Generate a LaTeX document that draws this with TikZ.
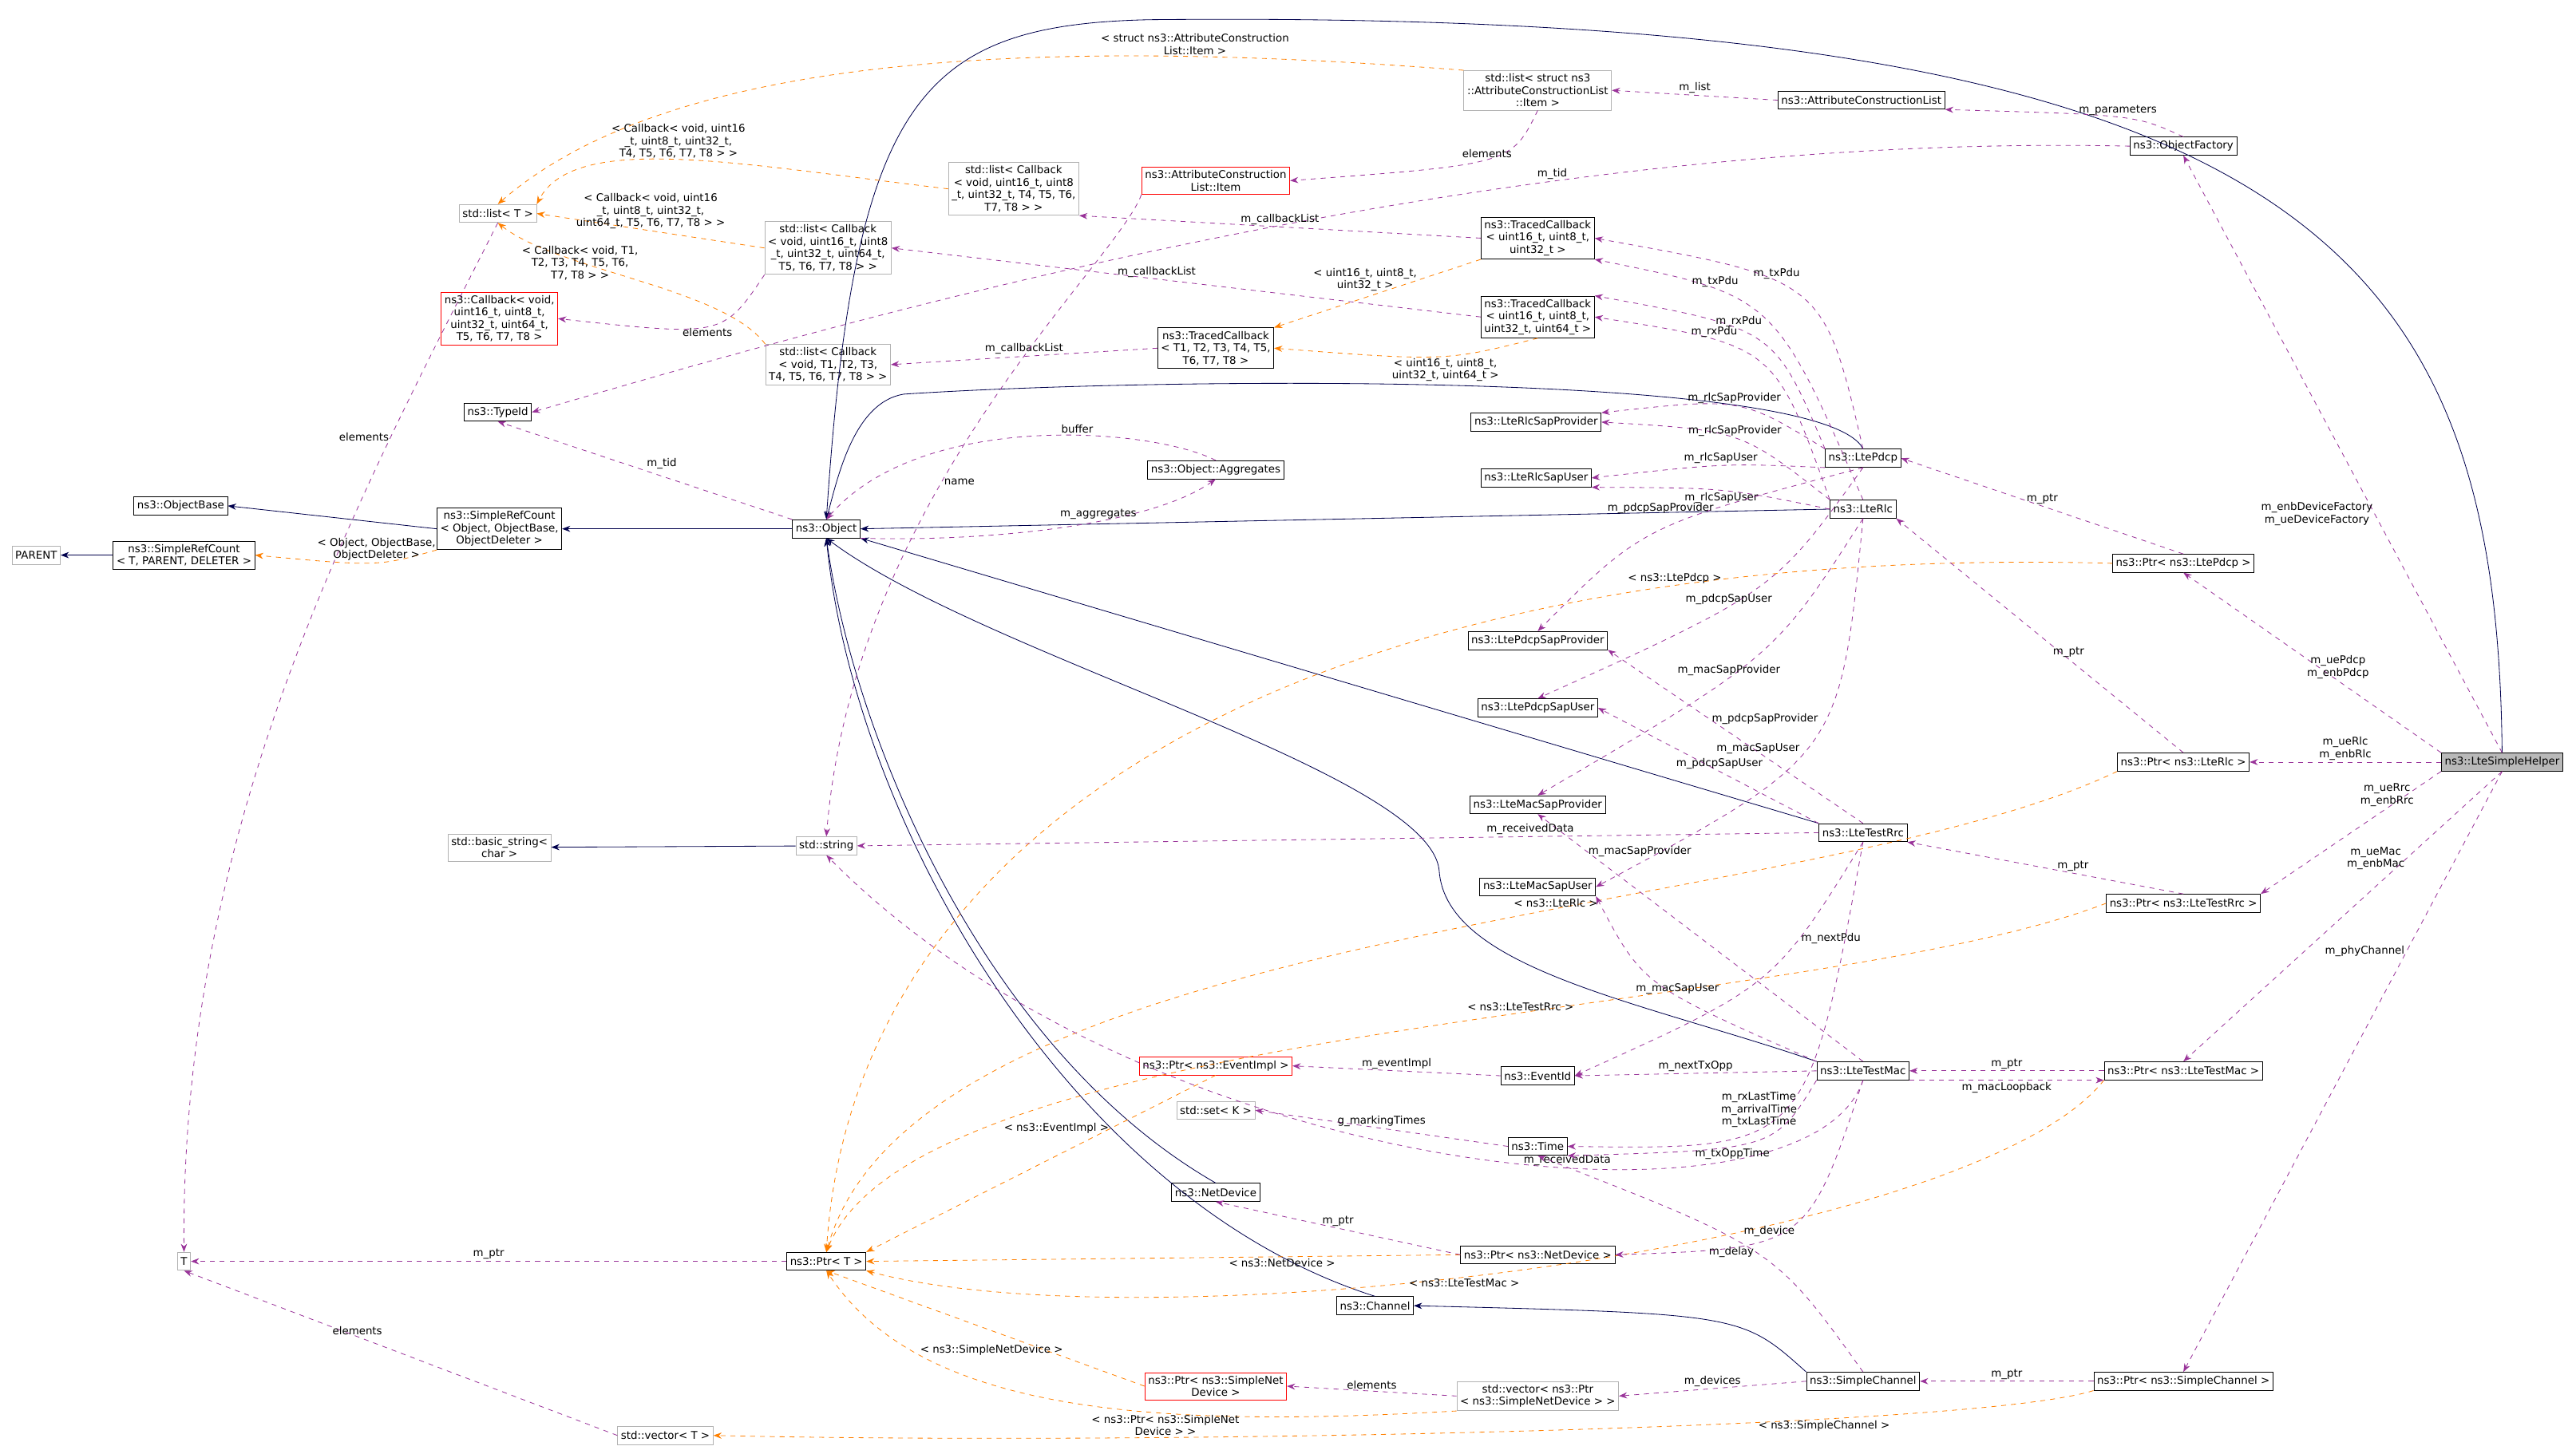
\documentclass[tikz,border=0pt]{standalone}
\usepackage{fontspec}
\setmainfont{DejaVu Sans}
\usetikzlibrary{arrows.meta}
\begin{document}
\begin{tikzpicture}[x=1pt,y=-1pt,font=\fontsize{6.5}{7.5}\selectfont,
  cls/.style={draw=black,rectangle,inner sep=2pt,minimum height=11pt,align=center,fill=white},
  ext/.style={cls,draw=gray!60},
  undoc/.style={cls,draw=red},
  inh/.style={draw=blue!30!black,-{Stealth[length=5pt]}},
  use/.style={draw=violet!80,dashed,-{Stealth[length=5pt]}},
  tpl/.style={draw=orange,dashed,-{Stealth[length=5pt]}},
  lbl/.style={inner sep=1pt,align=center,fill=none}]
\useasboundingbox (0,0) rectangle (1568,885);

% left column
\node[ext] (parent) at (22,338) {PARENT};
\node[cls] (obase) at (110,308) {ns3::ObjectBase};
\node[cls] (srct) at (112,338) {ns3::SimpleRefCount\\< T, PARENT, DELETER >};
\node[cls] (srco) at (304,322) {ns3::SimpleRefCount\\< Object, ObjectBase,\\ObjectDeleter >};
\node[ext] (listt) at (303,130) {std::list< T >};
\node[undoc] (cbk) at (304,194) {ns3::Callback< void,\\uint16\_t, uint8\_t,\\uint32\_t, uint64\_t,\\T5, T6, T7, T8 >};
\node[cls] (tid) at (303,251) {ns3::TypeId};
\node[ext] (t) at (112,768) {T};
\node[ext] (vect) at (405,874) {std::vector< T >};
\node[ext] (bstr) at (304,516) {std::basic\_string<\\char >};

% second column
\node[cls] (obj) at (503,322) {ns3::Object};
\node[cls] (ptrt) at (503,768) {ns3::Ptr< T >};
\node[ext] (str) at (503,515) {std::string};
\node[ext] (lcb64) at (504,151) {std::list< Callback\\< void, uint16\_t, uint8\\\_t, uint32\_t, uint64\_t,\\T5, T6, T7, T8 > >};
\node[ext] (lcbt) at (504,222) {std::list< Callback\\< void, T1, T2, T3,\\T4, T5, T6, T7, T8 > >};
\node[ext] (lcb32) at (617,115) {std::list< Callback\\< void, uint16\_t, uint8\\\_t, uint32\_t, T4, T5, T6,\\T7, T8 > >};

% third column
\node[undoc] (acitem) at (740,110) {ns3::AttributeConstruction\\List::Item};
\node[cls] (tcbt) at (740,212) {ns3::TracedCallback\\< T1, T2, T3, T4, T5,\\T6, T7, T8 >};
\node[cls] (aggr) at (740,286) {ns3::Object::Aggregates};
\node[undoc] (pevt) at (740,649) {ns3::Ptr< ns3::EventImpl >};
\node[ext] (setk) at (740,676) {std::set< K >};
\node[cls] (netdev) at (740,726) {ns3::NetDevice};
\node[cls] (chan) at (837,795) {ns3::Channel};
\node[undoc] (psnd) at (740,844) {ns3::Ptr< ns3::SimpleNet\\Device >};

% fourth column
\node[ext] (lattr) at (936,55) {std::list< struct ns3\\::AttributeConstructionList\\::Item >};
\node[cls] (tcb32) at (936,145) {ns3::TracedCallback\\< uint16\_t, uint8\_t,\\uint32\_t >};
\node[cls] (tcb64) at (936,193) {ns3::TracedCallback\\< uint16\_t, uint8\_t,\\uint32\_t, uint64\_t >};
\node[cls] (rlcprov) at (935,257) {ns3::LteRlcSapProvider};
\node[cls] (rlcuser) at (935,291) {ns3::LteRlcSapUser};
\node[cls] (pdcpprov) at (936,390) {ns3::LtePdcpSapProvider};
\node[cls] (pdcpuser) at (936,431) {ns3::LtePdcpSapUser};
\node[cls] (macprov) at (936,490) {ns3::LteMacSapProvider};
\node[cls] (macuser) at (936,540) {ns3::LteMacSapUser};
\node[cls] (evid) at (936,655) {ns3::EventId};
\node[cls] (time) at (936,698) {ns3::Time};
\node[cls] (pnetdev) at (936,764) {ns3::Ptr< ns3::NetDevice >};
\node[ext] (vpsnd) at (936,850) {std::vector< ns3::Ptr\\< ns3::SimpleNetDevice > >};

% fifth column
\node[cls] (acl) at (1133,61) {ns3::AttributeConstructionList};
\node[cls] (pdcp) at (1134,279) {ns3::LtePdcp};
\node[cls] (rlc) at (1134,310) {ns3::LteRlc};
\node[cls] (rrc) at (1134,507) {ns3::LteTestRrc};
\node[cls] (mac) at (1134,652) {ns3::LteTestMac};
\node[cls] (schan) at (1134,841) {ns3::SimpleChannel};

% sixth column
\node[cls] (ofact) at (1329,89) {ns3::ObjectFactory};
\node[cls] (ppdcp) at (1329,343) {ns3::Ptr< ns3::LtePdcp >};
\node[cls] (prlc) at (1329,464) {ns3::Ptr< ns3::LteRlc >};
\node[cls] (prrc) at (1329,550) {ns3::Ptr< ns3::LteTestRrc >};
\node[cls] (pmac) at (1329,652) {ns3::Ptr< ns3::LteTestMac >};
\node[cls] (pschan) at (1329,841) {ns3::Ptr< ns3::SimpleChannel >};
\node[cls,fill=gray!55] (helper) at (1523,464) {ns3::LteSimpleHelper};

% inheritance
\draw[inh] (srct) -- (parent);
\draw[inh] (srco.west) -- (obase.east);
\draw[inh] (obj) -- (srco);
\draw[inh] (str) -- (bstr);
\draw[inh] (schan.north west) .. controls (1060,800) .. (chan.east);
\draw[inh] (rlc.west) -- (obj.east);
\draw[inh] (pdcp.north) .. controls (1110,225) and (700,230) .. (550,240) .. controls (520,245) and (510,290) .. (obj.north);
\draw[inh] (rrc.north west) -- (obj.south east);
\draw[inh] (mac.north west) .. controls (1000,610) and (880,590) .. (876,530) .. controls (870,470) and (600,400) .. (obj.south);
\draw[inh] (netdev.north) .. controls (600,640) and (520,450) .. (obj.south);
\draw[inh] (chan.north) .. controls (650,730) and (520,500) .. (obj.south);
\draw[inh] (helper.north) .. controls (1520,150) and (1400,5) .. (700,12) .. controls (560,15) and (520,60) .. (obj.north);

% template instances
\draw[tpl] (srco.south west) .. controls (230,345) .. (srct.east) node[lbl,pos=0.45,above] {< Object, ObjectBase,\\ObjectDeleter >};
\draw[tpl] (lattr.north west) .. controls (600,20) and (400,40) .. (listt.north) node[lbl,pos=0.2,above] {< struct ns3::AttributeConstruction\\List::Item >};
\draw[tpl] (lcb32.west) .. controls (450,100) and (350,80) .. (listt.north east) node[lbl,pos=0.5,above] {< Callback< void, uint16\\\_t, uint8\_t, uint32\_t,\\T4, T5, T6, T7, T8 > >};
\draw[tpl] (lcb64.west) -- (listt.east) node[lbl,midway,above] {< Callback< void, uint16\\\_t, uint8\_t, uint32\_t,\\uint64\_t, T5, T6, T7, T8 > >};
\draw[tpl] (lcbt.north west) .. controls (440,175) and (340,165) .. (listt.south) node[lbl,pos=0.5,above left=-1pt] {< Callback< void, T1,\\T2, T3, T4, T5, T6,\\T7, T8 > >};
\draw[tpl] (tcb32.south west) -- (tcbt.north east) node[lbl,pos=0.3,left] {< uint16\_t, uint8\_t,\\uint32\_t >};
\draw[tpl] (tcb64.south) .. controls (880,220) .. (tcbt.east) node[lbl,pos=0.45,below] {< uint16\_t, uint8\_t,\\uint32\_t, uint64\_t >};
\draw[tpl] (ppdcp.west) .. controls (800,330) and (520,500) .. (ptrt.north) node[lbl,pos=0.2,above] {< ns3::LtePdcp >};
\draw[tpl] (prlc.south west) .. controls (1100,560) and (560,560) .. (ptrt.north) node[lbl,pos=0.4,above] {< ns3::LteRlc >};
\draw[tpl] (prrc.west) .. controls (1100,620) and (560,620) .. (ptrt.north) node[lbl,pos=0.42,above] {< ns3::LteTestRrc >};
\draw[tpl] (pevt.south) -- (ptrt.north east) node[lbl,pos=0.3,left] {< ns3::EventImpl >};
\draw[tpl] (pnetdev.west) -- (ptrt.east) node[lbl,pos=0.3,below] {< ns3::NetDevice >};
\draw[tpl] (pmac.south west) .. controls (1200,760) and (700,820) .. (ptrt.south east) node[lbl,pos=0.55,below] {< ns3::LteTestMac >};
\draw[tpl] (psnd.west) -- (ptrt.south) node[lbl,pos=0.25,above left] {< ns3::SimpleNetDevice >};
\draw[tpl] (vpsnd.south west) .. controls (700,870) and (560,860) .. (ptrt.south) node[lbl,pos=0.35,below] {< ns3::Ptr< ns3::SimpleNet\\Device > >};
\draw[tpl] (pschan.south west) .. controls (1200,870) and (700,880) .. (vect.east) node[lbl,pos=0.3,below] {< ns3::SimpleChannel >};

% usage
\draw[use] (acl.west) -- (lattr.east) node[lbl,midway,above] {m\_list};
\draw[use] (ofact.north) .. controls (1300,70) .. (acl.south east) node[lbl,midway,above] {m\_parameters};
\draw[use] (ofact.west) .. controls (900,80) and (500,200) .. (tid.east) node[lbl,pos=0.3,above] {m\_tid};
\draw[use] (listt.south) .. controls (220,300) and (110,500) .. (t.north) node[lbl,pos=0.25,left] {elements};
\draw[use] (lcb64.south west) .. controls (440,205) .. (cbk.east) node[lbl,pos=0.5,below] {elements};
\draw[use] (lattr.south) .. controls (920,100) .. (acitem.east) node[lbl,pos=0.5,above] {elements};
\draw[use] (tcb32.west) -- (lcb32.south east) node[lbl,pos=0.5,above] {m\_callbackList};
\draw[use] (tcb64.west) -- (lcb64.east) node[lbl,pos=0.55,above] {m\_callbackList};
\draw[use] (tcbt.west) -- (lcbt.east) node[lbl,midway,above] {m\_callbackList};
\draw[use] (obj.north west) -- (tid.south) node[lbl,midway,above right] {m\_tid};
\draw[use] (aggr.north) .. controls (700,260) and (560,250) .. (obj.north) node[lbl,pos=0.4,above] {buffer};
\draw[use] (obj.south east) .. controls (600,330) and (700,320) .. (aggr.south) node[lbl,pos=0.6,above] {m\_aggregates};
\draw[use] (acitem.south west) .. controls (680,160) and (520,300) .. (str.north) node[lbl,pos=0.6,right] {name};
\draw[use] (pdcp.north) .. controls (1110,170) .. (tcb32.east) node[lbl,pos=0.6,above] {m\_txPdu};
\draw[use] (pdcp.north west) .. controls (1080,200) .. (tcb64.north east) node[lbl,pos=0.6,above] {m\_rxPdu};
\draw[use] (rlc.north) .. controls (1080,180) .. (tcb32.south east) node[lbl,pos=0.7,above] {m\_txPdu};
\draw[use] (rlc.north west) .. controls (1080,210) .. (tcb64.east) node[lbl,pos=0.7,above] {m\_rxPdu};
\draw[use] (pdcp.north west) .. controls (1060,242) .. (rlcprov.north east) node[lbl,pos=0.5,above] {m\_rlcSapProvider};
\draw[use] (rlc.north west) .. controls (1060,262) .. (rlcprov.east) node[lbl,pos=0.5,above] {m\_rlcSapProvider};
\draw[use] (pdcp.south west) .. controls (1050,282) .. (rlcuser.east) node[lbl,pos=0.5,above] {m\_rlcSapUser};
\draw[use] (rlc.west) .. controls (1050,297) .. (rlcuser.south east) node[lbl,pos=0.5,below] {m\_rlcSapUser};
\draw[use] (pdcp.south) .. controls (1000,320) .. (pdcpprov.north) node[lbl,pos=0.3,left] {m\_pdcpSapProvider};
\draw[use] (pdcp.south) .. controls (1080,360) .. (pdcpuser.north) node[lbl,pos=0.6,above] {m\_pdcpSapUser};
\draw[use] (rrc.north) -- (pdcpprov.south east) node[lbl,pos=0.6,right] {m\_pdcpSapProvider};
\draw[use] (rrc.north west) -- (pdcpuser.east) node[lbl,pos=0.45,above] {m\_pdcpSapUser};
\draw[use] (rlc.south) .. controls (1080,400) .. (macprov.north) node[lbl,pos=0.6,above] {m\_macSapProvider};
\draw[use] (rlc.south) .. controls (1120,460) .. (macuser.east) node[lbl,pos=0.55,above left] {m\_macSapUser};
\draw[use] (mac.north) -- (macprov.south) node[lbl,pos=0.85,right] {m\_macSapProvider};
\draw[use] (mac.north west) .. controls (1000,600) .. (macuser.south east) node[lbl,pos=0.4,above] {m\_macSapUser};
\draw[use] (rrc.west) -- (str.east) node[lbl,pos=0.3,above] {m\_receivedData};
\draw[use] (mac.south) .. controls (1100,760) and (700,720) .. (str.south) node[lbl,pos=0.4,above] {m\_receivedData};
\draw[use] (rrc.south) .. controls (1080,600) .. (evid.east) node[lbl,pos=0.3,right] {m\_nextPdu};
\draw[use] (mac.west) -- (evid.east) node[lbl,midway,above] {m\_nextTxOpp};
\draw[use] (rrc.south) .. controls (1100,700) .. (time.east) node[lbl,pos=0.6,above] {m\_rxLastTime\\m\_arrivalTime\\m\_txLastTime};
\draw[use] (mac.south west) .. controls (1080,700) .. (time.south east) node[lbl,pos=0.6,below] {m\_txOppTime};
\draw[use] (schan.north) .. controls (1080,760) .. (time.south) node[lbl,pos=0.5,left] {m\_delay};
\draw[use] (evid.west) -- (pevt.east) node[lbl,midway,above] {m\_eventImpl};
\draw[use] (time.west) -- (setk.east) node[lbl,midway,above] {g\_markingTimes};
\draw[use] (pnetdev.west) -- (netdev.south) node[lbl,midway,above] {m\_ptr};
\draw[use] (mac.south) .. controls (1100,760) .. (pnetdev.east) node[lbl,pos=0.6,above] {m\_device};
\draw[use] (ptrt.west) -- (t.east) node[lbl,midway,above] {m\_ptr};
\draw[use] (vect.west) -- (t.south) node[lbl,pos=0.6,above] {elements};
\draw[use] (vpsnd.west) -- (psnd.east) node[lbl,midway,above] {elements};
\draw[use] (schan.west) -- (vpsnd.east) node[lbl,midway,above] {m\_devices};
\draw[use] (pschan.west) -- (schan.east) node[lbl,midway,above] {m\_ptr};
\draw[use] (pmac.west) -- (mac.east) node[lbl,midway,above] {m\_ptr};
\draw[use] (mac.south east) -- (pmac.south west) node[lbl,midway,below] {m\_macLoopback};
\draw[use] (prrc.north) -- (rrc.south east) node[lbl,pos=0.4,above] {m\_ptr};
\draw[use] (prlc.north) -- (rlc.south east) node[lbl,pos=0.4,above] {m\_ptr};
\draw[use] (ppdcp.north) -- (pdcp.east) node[lbl,pos=0.5,above] {m\_ptr};
\draw[use] (helper.north) -- (ofact.south) node[lbl,pos=0.4,left] {m\_enbDeviceFactory\\m\_ueDeviceFactory};
\draw[use] (helper.north west) -- (ppdcp.south) node[lbl,pos=0.4,above] {m\_uePdcp\\m\_enbPdcp};
\draw[use] (helper.west) -- (prlc.east) node[lbl,midway,above] {m\_ueRlc\\m\_enbRlc};
\draw[use] (helper.south west) -- (prrc.north east) node[lbl,pos=0.3,above] {m\_ueRrc\\m\_enbRrc};
\draw[use] (helper.south) -- (pmac.north) node[lbl,pos=0.3,left] {m\_ueMac\\m\_enbMac};
\draw[use] (helper.south) -- (pschan.north) node[lbl,pos=0.3,left] {m\_phyChannel};
\end{tikzpicture}
\end{document}
